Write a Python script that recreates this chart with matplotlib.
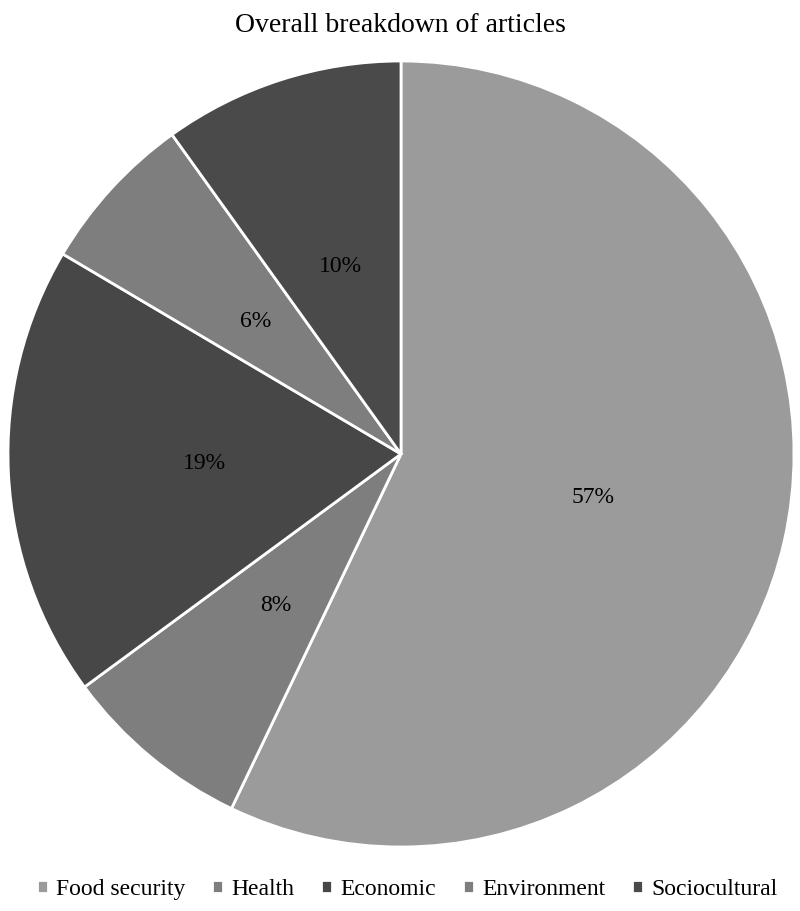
import matplotlib.pyplot as plt

categories = ["Food security", "Health", "Economic", "Environment", "Sociocultural"]
shares = [57.1, 7.8, 18.6, 6.6, 9.9]
pct_labels = ["57%", "8%", "19%", "6%", "10%"]
colors = ["#9b9b9b", "#7e7e7e", "#474747", "#7e7e7e", "#4a4a4a"]

plt.rcParams['font.family'] = ['Liberation Serif', 'DejaVu Serif']

fig = plt.figure(figsize=(8, 9.11), dpi=100)
ax = fig.add_axes([0.01, 64 / 911, 786 / 800, 786 / 911])

wedges, texts = ax.pie(
    shares, colors=colors, startangle=90, counterclock=False,
    labels=pct_labels, labeldistance=0.5,
    wedgeprops=dict(edgecolor='white', linewidth=2),
    textprops=dict(fontsize=17, color='black', ha='center', va='center'))
for t in texts:
    t.set_horizontalalignment('center')
ax.set_xlim(-1, 1)
ax.set_ylim(-1, 1)
ax.set_aspect('equal')

fig.suptitle("Overall breakdown of articles", y=0.986, fontsize=20)

fig.legend(wedges, categories, loc='lower center', bbox_to_anchor=(0.509, -0.011),
           ncol=5, frameon=False, fontsize=17, handlelength=0.45, handleheight=0.45,
           handletextpad=0.35, columnspacing=1.15)

fig.savefig("out.png", dpi=100)
